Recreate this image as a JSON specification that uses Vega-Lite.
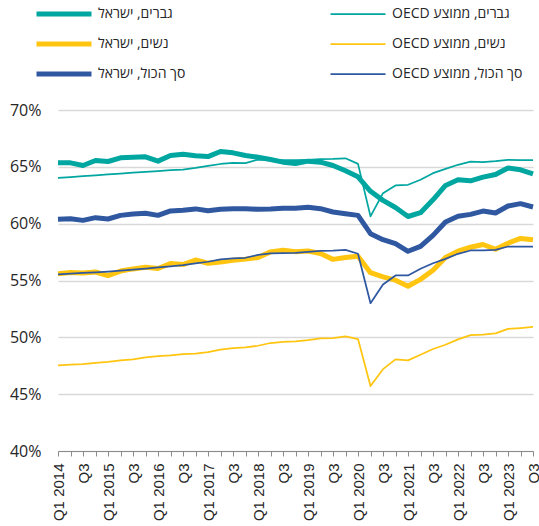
{
  "$schema": "https://vega.github.io/schema/vega-lite/v6.json",
  "width": 475,
  "height": 341,
  "autosize": {"type": "none"},
  "padding": {"left": 58, "top": 110, "right": 6, "bottom": 75},
  "config": {"view": {"stroke": null}},
  "data": {"values": [
{"q":"2014 Q1","s":"גברים, ישראל","v":65.35},{"q":"2014 Q2","s":"גברים, ישראל","v":65.35},{"q":"2014 Q3","s":"גברים, ישראל","v":65.12},{"q":"2014 Q4","s":"גברים, ישראל","v":65.56},
{"q":"2015 Q1","s":"גברים, ישראל","v":65.47},{"q":"2015 Q2","s":"גברים, ישראל","v":65.79},{"q":"2015 Q3","s":"גברים, ישראל","v":65.85},{"q":"2015 Q4","s":"גברים, ישראל","v":65.88},
{"q":"2016 Q1","s":"גברים, ישראל","v":65.5},{"q":"2016 Q2","s":"גברים, ישראל","v":66.0},{"q":"2016 Q3","s":"גברים, ישראל","v":66.11},{"q":"2016 Q4","s":"גברים, ישראל","v":65.97},
{"q":"2017 Q1","s":"גברים, ישראל","v":65.9},{"q":"2017 Q2","s":"גברים, ישראל","v":66.35},{"q":"2017 Q3","s":"גברים, ישראל","v":66.23},{"q":"2017 Q4","s":"גברים, ישראל","v":66.0},
{"q":"2018 Q1","s":"גברים, ישראל","v":65.85},{"q":"2018 Q2","s":"גברים, ישראל","v":65.65},{"q":"2018 Q3","s":"גברים, ישראל","v":65.41},{"q":"2018 Q4","s":"גברים, ישראל","v":65.29},
{"q":"2019 Q1","s":"גברים, ישראל","v":65.5},{"q":"2019 Q2","s":"גברים, ישראל","v":65.41},{"q":"2019 Q3","s":"גברים, ישראל","v":65.12},{"q":"2019 Q4","s":"גברים, ישראל","v":64.65},
{"q":"2020 Q1","s":"גברים, ישראל","v":64.12},{"q":"2020 Q2","s":"גברים, ישראל","v":62.85},{"q":"2020 Q3","s":"גברים, ישראל","v":62.05},{"q":"2020 Q4","s":"גברים, ישראל","v":61.42},
{"q":"2021 Q1","s":"גברים, ישראל","v":60.63},{"q":"2021 Q2","s":"גברים, ישראל","v":60.97},{"q":"2021 Q3","s":"גברים, ישראל","v":62.1},{"q":"2021 Q4","s":"גברים, ישראל","v":63.36},
{"q":"2022 Q1","s":"גברים, ישראל","v":63.86},{"q":"2022 Q2","s":"גברים, ישראל","v":63.77},{"q":"2022 Q3","s":"גברים, ישראל","v":64.09},{"q":"2022 Q4","s":"גברים, ישראל","v":64.32},
{"q":"2023 Q1","s":"גברים, ישראל","v":64.9},{"q":"2023 Q2","s":"גברים, ישראל","v":64.74},{"q":"2023 Q3","s":"גברים, ישראל","v":64.38},

{"q":"2014 Q1","s":"גברים, ממוצע OECD","v":64.03},{"q":"2014 Q2","s":"גברים, ממוצע OECD","v":64.1},{"q":"2014 Q3","s":"גברים, ממוצע OECD","v":64.18},{"q":"2014 Q4","s":"גברים, ממוצע OECD","v":64.25},
{"q":"2015 Q1","s":"גברים, ממוצע OECD","v":64.34},{"q":"2015 Q2","s":"גברים, ממוצע OECD","v":64.4},{"q":"2015 Q3","s":"גברים, ממוצע OECD","v":64.48},{"q":"2015 Q4","s":"גברים, ממוצע OECD","v":64.55},
{"q":"2016 Q1","s":"גברים, ממוצע OECD","v":64.63},{"q":"2016 Q2","s":"גברים, ממוצע OECD","v":64.7},{"q":"2016 Q3","s":"גברים, ממוצע OECD","v":64.76},{"q":"2016 Q4","s":"גברים, ממוצע OECD","v":64.9},
{"q":"2017 Q1","s":"גברים, ממוצע OECD","v":65.08},{"q":"2017 Q2","s":"גברים, ממוצע OECD","v":65.25},{"q":"2017 Q3","s":"גברים, ממוצע OECD","v":65.35},{"q":"2017 Q4","s":"גברים, ממוצע OECD","v":65.33},
{"q":"2018 Q1","s":"גברים, ממוצע OECD","v":65.64},{"q":"2018 Q2","s":"גברים, ממוצע OECD","v":65.62},{"q":"2018 Q3","s":"גברים, ממוצע OECD","v":65.58},{"q":"2018 Q4","s":"גברים, ממוצע OECD","v":65.58},
{"q":"2019 Q1","s":"גברים, ממוצע OECD","v":65.62},{"q":"2019 Q2","s":"גברים, ממוצע OECD","v":65.68},{"q":"2019 Q3","s":"גברים, ממוצע OECD","v":65.7},{"q":"2019 Q4","s":"גברים, ממוצע OECD","v":65.75},
{"q":"2020 Q1","s":"גברים, ממוצע OECD","v":65.26},{"q":"2020 Q2","s":"גברים, ממוצע OECD","v":60.64},{"q":"2020 Q3","s":"גברים, ממוצע OECD","v":62.68},{"q":"2020 Q4","s":"גברים, ממוצע OECD","v":63.36},
{"q":"2021 Q1","s":"גברים, ממוצע OECD","v":63.42},{"q":"2021 Q2","s":"גברים, ממוצע OECD","v":63.86},{"q":"2021 Q3","s":"גברים, ממוצע OECD","v":64.44},{"q":"2021 Q4","s":"גברים, ממוצע OECD","v":64.82},
{"q":"2022 Q1","s":"גברים, ממוצע OECD","v":65.18},{"q":"2022 Q2","s":"גברים, ממוצע OECD","v":65.45},{"q":"2022 Q3","s":"גברים, ממוצע OECD","v":65.41},{"q":"2022 Q4","s":"גברים, ממוצע OECD","v":65.5},
{"q":"2023 Q1","s":"גברים, ממוצע OECD","v":65.62},{"q":"2023 Q2","s":"גברים, ממוצע OECD","v":65.59},{"q":"2023 Q3","s":"גברים, ממוצע OECD","v":65.59},

{"q":"2014 Q1","s":"נשים, ישראל","v":55.6},{"q":"2014 Q2","s":"נשים, ישראל","v":55.7},{"q":"2014 Q3","s":"נשים, ישראל","v":55.65},{"q":"2014 Q4","s":"נשים, ישראל","v":55.75},
{"q":"2015 Q1","s":"נשים, ישראל","v":55.43},{"q":"2015 Q2","s":"נשים, ישראל","v":55.83},{"q":"2015 Q3","s":"נשים, ישראל","v":56.02},{"q":"2015 Q4","s":"נשים, ישראל","v":56.17},
{"q":"2016 Q1","s":"נשים, ישראל","v":56.06},{"q":"2016 Q2","s":"נשים, ישראל","v":56.5},{"q":"2016 Q3","s":"נשים, ישראל","v":56.4},{"q":"2016 Q4","s":"נשים, ישראל","v":56.8},
{"q":"2017 Q1","s":"נשים, ישראל","v":56.52},{"q":"2017 Q2","s":"נשים, ישראל","v":56.62},{"q":"2017 Q3","s":"נשים, ישראל","v":56.78},{"q":"2017 Q4","s":"נשים, ישראל","v":56.88},
{"q":"2018 Q1","s":"נשים, ישראל","v":57.02},{"q":"2018 Q2","s":"נשים, ישראל","v":57.52},{"q":"2018 Q3","s":"נשים, ישראל","v":57.67},{"q":"2018 Q4","s":"נשים, ישראל","v":57.54},
{"q":"2019 Q1","s":"נשים, ישראל","v":57.6},{"q":"2019 Q2","s":"נשים, ישראל","v":57.37},{"q":"2019 Q3","s":"נשים, ישראל","v":56.86},{"q":"2019 Q4","s":"נשים, ישראל","v":57.02},
{"q":"2020 Q1","s":"נשים, ישראל","v":57.13},{"q":"2020 Q2","s":"נשים, ישראל","v":55.69},{"q":"2020 Q3","s":"נשים, ישראל","v":55.32},{"q":"2020 Q4","s":"נשים, ישראל","v":55.03},
{"q":"2021 Q1","s":"נשים, ישראל","v":54.5},{"q":"2021 Q2","s":"נשים, ישראל","v":55.1},{"q":"2021 Q3","s":"נשים, ישראל","v":55.9},{"q":"2021 Q4","s":"נשים, ישראל","v":57.02},
{"q":"2022 Q1","s":"נשים, ישראל","v":57.58},{"q":"2022 Q2","s":"נשים, ישראל","v":57.93},{"q":"2022 Q3","s":"נשים, ישראל","v":58.17},{"q":"2022 Q4","s":"נשים, ישראל","v":57.75},
{"q":"2023 Q1","s":"נשים, ישראל","v":58.28},{"q":"2023 Q2","s":"נשים, ישראל","v":58.7},{"q":"2023 Q3","s":"נשים, ישראל","v":58.59},

{"q":"2014 Q1","s":"נשים, ממוצע OECD","v":47.53},{"q":"2014 Q2","s":"נשים, ממוצע OECD","v":47.59},{"q":"2014 Q3","s":"נשים, ממוצע OECD","v":47.65},{"q":"2014 Q4","s":"נשים, ממוצע OECD","v":47.76},
{"q":"2015 Q1","s":"נשים, ממוצע OECD","v":47.85},{"q":"2015 Q2","s":"נשים, ממוצע OECD","v":47.97},{"q":"2015 Q3","s":"נשים, ממוצע OECD","v":48.06},{"q":"2015 Q4","s":"נשים, ממוצע OECD","v":48.24},
{"q":"2016 Q1","s":"נשים, ממוצע OECD","v":48.35},{"q":"2016 Q2","s":"נשים, ממוצע OECD","v":48.41},{"q":"2016 Q3","s":"נשים, ממוצע OECD","v":48.53},{"q":"2016 Q4","s":"נשים, ממוצע OECD","v":48.56},
{"q":"2017 Q1","s":"נשים, ממוצע OECD","v":48.7},{"q":"2017 Q2","s":"נשים, ממוצע OECD","v":48.91},{"q":"2017 Q3","s":"נשים, ממוצע OECD","v":49.06},{"q":"2017 Q4","s":"נשים, ממוצע OECD","v":49.12},
{"q":"2018 Q1","s":"נשים, ממוצע OECD","v":49.26},{"q":"2018 Q2","s":"נשים, ממוצע OECD","v":49.5},{"q":"2018 Q3","s":"נשים, ממוצע OECD","v":49.59},{"q":"2018 Q4","s":"נשים, ממוצע OECD","v":49.65},
{"q":"2019 Q1","s":"נשים, ממוצע OECD","v":49.76},{"q":"2019 Q2","s":"נשים, ממוצע OECD","v":49.91},{"q":"2019 Q3","s":"נשים, ממוצע OECD","v":49.94},{"q":"2019 Q4","s":"נשים, ממוצע OECD","v":50.09},
{"q":"2020 Q1","s":"נשים, ממוצע OECD","v":49.85},{"q":"2020 Q2","s":"נשים, ממוצע OECD","v":45.71},{"q":"2020 Q3","s":"נשים, ממוצע OECD","v":47.2},{"q":"2020 Q4","s":"נשים, ממוצע OECD","v":48.06},
{"q":"2021 Q1","s":"נשים, ממוצע OECD","v":47.97},{"q":"2021 Q2","s":"נשים, ממוצע OECD","v":48.47},{"q":"2021 Q3","s":"נשים, ממוצע OECD","v":48.97},{"q":"2021 Q4","s":"נשים, ממוצע OECD","v":49.35},
{"q":"2022 Q1","s":"נשים, ממוצע OECD","v":49.82},{"q":"2022 Q2","s":"נשים, ממוצע OECD","v":50.2},{"q":"2022 Q3","s":"נשים, ממוצע OECD","v":50.24},{"q":"2022 Q4","s":"נשים, ממוצע OECD","v":50.35},
{"q":"2023 Q1","s":"נשים, ממוצע OECD","v":50.74},{"q":"2023 Q2","s":"נשים, ממוצע OECD","v":50.82},{"q":"2023 Q3","s":"נשים, ממוצע OECD","v":50.91},

{"q":"2014 Q1","s":"סך הכול, ישראל","v":60.38},{"q":"2014 Q2","s":"סך הכול, ישראל","v":60.44},{"q":"2014 Q3","s":"סך הכול, ישראל","v":60.29},{"q":"2014 Q4","s":"סך הכול, ישראל","v":60.53},
{"q":"2015 Q1","s":"סך הכול, ישראל","v":60.41},{"q":"2015 Q2","s":"סך הכול, ישראל","v":60.73},{"q":"2015 Q3","s":"סך הכול, ישראל","v":60.85},{"q":"2015 Q4","s":"סך הכול, ישראל","v":60.92},
{"q":"2016 Q1","s":"סך הכול, ישראל","v":60.73},{"q":"2016 Q2","s":"סך הכול, ישראל","v":61.12},{"q":"2016 Q3","s":"סך הכול, ישראל","v":61.18},{"q":"2016 Q4","s":"סך הכול, ישראל","v":61.3},
{"q":"2017 Q1","s":"סך הכול, ישראל","v":61.14},{"q":"2017 Q2","s":"סך הכול, ישראל","v":61.26},{"q":"2017 Q3","s":"סך הכול, ישראל","v":61.32},{"q":"2017 Q4","s":"סך הכול, ישראל","v":61.32},
{"q":"2018 Q1","s":"סך הכול, ישראל","v":61.26},{"q":"2018 Q2","s":"סך הכול, ישראל","v":61.29},{"q":"2018 Q3","s":"סך הכול, ישראל","v":61.35},{"q":"2018 Q4","s":"סך הכול, ישראל","v":61.35},
{"q":"2019 Q1","s":"סך הכול, ישראל","v":61.45},{"q":"2019 Q2","s":"סך הכול, ישראל","v":61.32},{"q":"2019 Q3","s":"סך הכול, ישראל","v":61.03},{"q":"2019 Q4","s":"סך הכול, ישראל","v":60.88},
{"q":"2020 Q1","s":"סך הכול, ישראל","v":60.73},{"q":"2020 Q2","s":"סך הכול, ישראל","v":59.12},{"q":"2020 Q3","s":"סך הכול, ישראל","v":58.59},{"q":"2020 Q4","s":"סך הכול, ישראל","v":58.24},
{"q":"2021 Q1","s":"סך הכול, ישראל","v":57.57},{"q":"2021 Q2","s":"סך הכול, ישראל","v":58.0},{"q":"2021 Q3","s":"סך הכול, ישראל","v":58.97},{"q":"2021 Q4","s":"סך הכול, ישראל","v":60.15},
{"q":"2022 Q1","s":"סך הכול, ישראל","v":60.65},{"q":"2022 Q2","s":"סך הכול, ישראל","v":60.82},{"q":"2022 Q3","s":"סך הכול, ישראל","v":61.11},{"q":"2022 Q4","s":"סך הכול, ישראל","v":60.94},
{"q":"2023 Q1","s":"סך הכול, ישראל","v":61.55},{"q":"2023 Q2","s":"סך הכול, ישראל","v":61.76},{"q":"2023 Q3","s":"סך הכול, ישראל","v":61.47},

{"q":"2014 Q1","s":"סך הכול, ממוצע OECD","v":55.53},{"q":"2014 Q2","s":"סך הכול, ממוצע OECD","v":55.6},{"q":"2014 Q3","s":"סך הכול, ממוצע OECD","v":55.66},{"q":"2014 Q4","s":"סך הכול, ממוצע OECD","v":55.72},
{"q":"2015 Q1","s":"סך הכול, ממוצע OECD","v":55.78},{"q":"2015 Q2","s":"סך הכול, ממוצע OECD","v":55.86},{"q":"2015 Q3","s":"סך הכול, ממוצע OECD","v":55.95},{"q":"2015 Q4","s":"סך הכול, ממוצע OECD","v":56.05},
{"q":"2016 Q1","s":"סך הכול, ממוצע OECD","v":56.15},{"q":"2016 Q2","s":"סך הכול, ממוצע OECD","v":56.25},{"q":"2016 Q3","s":"סך הכול, ממוצע OECD","v":56.35},{"q":"2016 Q4","s":"סך הכול, ממוצע OECD","v":56.5},
{"q":"2017 Q1","s":"סך הכול, ממוצע OECD","v":56.65},{"q":"2017 Q2","s":"סך הכול, ממוצע OECD","v":56.85},{"q":"2017 Q3","s":"סך הכול, ממוצע OECD","v":56.95},{"q":"2017 Q4","s":"סך הכול, ממוצע OECD","v":57.0},
{"q":"2018 Q1","s":"סך הכול, ממוצע OECD","v":57.25},{"q":"2018 Q2","s":"סך הכול, ממוצע OECD","v":57.38},{"q":"2018 Q3","s":"סך הכול, ממוצע OECD","v":57.4},{"q":"2018 Q4","s":"סך הכול, ממוצע OECD","v":57.43},
{"q":"2019 Q1","s":"סך הכול, ממוצע OECD","v":57.52},{"q":"2019 Q2","s":"סך הכול, ממוצע OECD","v":57.6},{"q":"2019 Q3","s":"סך הכול, ממוצע OECD","v":57.62},{"q":"2019 Q4","s":"סך הכול, ממוצע OECD","v":57.7},
{"q":"2020 Q1","s":"סך הכול, ממוצע OECD","v":57.35},{"q":"2020 Q2","s":"סך הכול, ממוצע OECD","v":53.0},{"q":"2020 Q3","s":"סך הכול, ממוצע OECD","v":54.65},{"q":"2020 Q4","s":"סך הכול, ממוצע OECD","v":55.44},
{"q":"2021 Q1","s":"סך הכול, ממוצע OECD","v":55.44},{"q":"2021 Q2","s":"סך הכול, ממוצע OECD","v":56.03},{"q":"2021 Q3","s":"סך הכול, ממוצע OECD","v":56.52},{"q":"2021 Q4","s":"סך הכול, ממוצע OECD","v":56.9},
{"q":"2022 Q1","s":"סך הכול, ממוצע OECD","v":57.35},{"q":"2022 Q2","s":"סך הכול, ממוצע OECD","v":57.64},{"q":"2022 Q3","s":"סך הכול, ממוצע OECD","v":57.64},{"q":"2022 Q4","s":"סך הכול, ממוצע OECD","v":57.7},
{"q":"2023 Q1","s":"סך הכול, ממוצע OECD","v":57.99},{"q":"2023 Q2","s":"סך הכול, ממוצע OECD","v":57.99},{"q":"2023 Q3","s":"סך הכול, ממוצע OECD","v":57.99}
  ]},
  "encoding": {
    "x": {
      "field": "q", "type": "ordinal",
      "scale": {"type": "point", "padding": 0},
      "axis": {
        "title": null, "labelAngle": -90, "labelAlign": "right", "labelBaseline": "middle",
        "labelExpr": "indexof(datum.value,'Q1')>0 ? 'Q1 ' + slice(datum.value,0,4) : (indexof(datum.value,'Q3')>0 ? 'Q3' : '')",
        "labelFont": "Liberation Sans", "labelFontSize": 15, "labelColor": "#262626",
        "labelOverlap": false, "labelPadding": 7,
        "domainColor": "#8c8c8c", "tickColor": "#8c8c8c", "tickSize": 5, "grid": false
      }
    },
    "y": {
      "field": "v", "type": "quantitative",
      "scale": {"domain": [40, 70], "zero": false, "nice": false},
      "axis": {
        "title": null, "values": [40, 45, 50, 55, 60, 65, 70],
        "labelExpr": "datum.value + '%'",
        "labelFont": "Open Sans", "labelFontSize": 16, "labelColor": "#262626", "labelPadding": 17,
        "domain": false, "ticks": false, "gridColor": "#d9d9d9", "gridWidth": 1.5
      }
    },
    "color": {
      "field": "s", "type": "nominal",
      "scale": {
        "domain": ["גברים, ישראל", "נשים, ישראל", "סך הכול, ישראל", "גברים, ממוצע OECD", "נשים, ממוצע OECD", "סך הכול, ממוצע OECD"],
        "range": ["#00a6a0", "#ffc510", "#2f58a0", "#00a6a0", "#ffc510", "#2f58a0"]
      },
      "legend": {
        "title": null, "orient": "none", "legendX": -24, "legendY": -105, "columns": 2,
        "columnPadding": 142, "rowPadding": 12, "symbolType": "stroke", "symbolSize": 3025,
        "clipHeight": 18, "labelFont": "Open Sans", "labelFontSize": 14, "labelColor": "#262626",
        "labelOffset": 4, "padding": 0, "labelLimit": 300,
        "labelExpr": "'\u202b' + datum.label + '\u202c'"
      }
    },
    "strokeWidth": {
      "field": "s", "type": "nominal",
      "scale": {
        "type": "ordinal",
        "domain": ["גברים, ישראל", "נשים, ישראל", "סך הכול, ישראל", "גברים, ממוצע OECD", "נשים, ממוצע OECD", "סך הכול, ממוצע OECD"],
        "range": [5, 5, 5, 1.75, 1.75, 1.75]
      },
      "legend": {
        "title": null, "orient": "none", "legendX": -24, "legendY": -105, "columns": 2,
        "columnPadding": 142, "rowPadding": 12, "symbolType": "stroke", "symbolSize": 3025,
        "clipHeight": 18, "labelFont": "Open Sans", "labelFontSize": 14, "labelColor": "#262626",
        "labelOffset": 4, "padding": 0, "labelLimit": 300,
        "labelExpr": "'\u202b' + datum.label + '\u202c'"
      }
    }
  },
  "layer": [
    {"transform": [{"filter": "indexof(datum.s,'OECD') < 0"}], "mark": {"type": "line", "strokeJoin": "round"}},
    {"transform": [{"filter": "indexof(datum.s,'OECD') >= 0"}], "mark": {"type": "line", "strokeJoin": "round"}}
  ]
}
